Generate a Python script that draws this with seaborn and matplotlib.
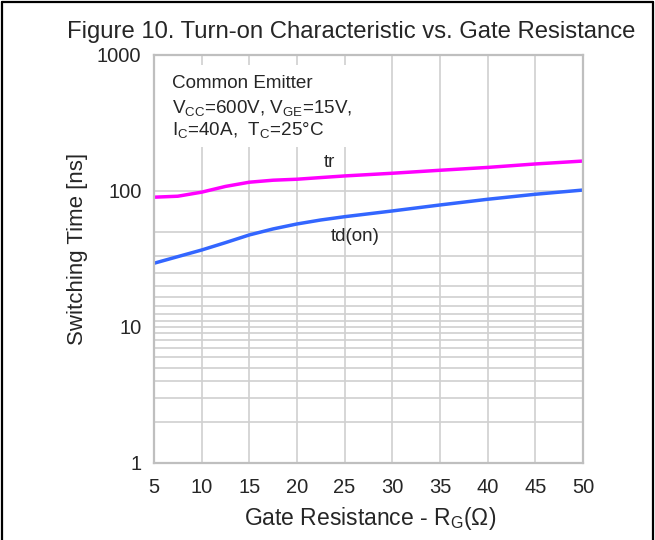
import matplotlib
matplotlib.use("Agg")
import matplotlib.pyplot as plt
import pandas as pd
import seaborn as sns
from matplotlib.lines import Line2D
from matplotlib.patches import Rectangle
from matplotlib.ticker import FixedLocator, NullFormatter

# Data (gate resistance in ohm, times in ns)
rg = [5, 7.5, 10, 12.5, 15, 17.5, 20, 22.5, 25, 30, 35, 40, 45, 50]
tr = [90, 91.5, 98, 108, 116, 120, 122, 125.5, 129, 135, 142, 149, 158, 166]
td_on = [29.4, 32.9, 36.8, 41.7, 47.5, 52.6, 57.2, 61.2, 64.7, 71.3, 78.9, 86.9, 94.6, 101.6]

x_ticks = [5, 10, 15, 20, 25, 30, 35, 40, 45, 50]
y_ticks = [1, 10, 100, 1000]
y_tick_labels = ["1", "10", "100", "1000"]
# horizontal grid lines as drawn in the datasheet chart
minor_grid = [2, 3, 4, 5, 6, 7, 8, 9,
              11.11, 12.5, 14.29, 16.67, 20, 25, 33.33, 50]

df = pd.DataFrame({"Rg": rg, "tr": tr, "td(on)": td_on})

sns.set_style("white")
plt.rcParams["font.family"] = ["Liberation Sans", "DejaVu Sans"]
plt.rcParams["mathtext.fontset"] = "custom"
plt.rcParams["mathtext.rm"] = "Liberation Sans"
plt.rcParams["mathtext.it"] = "Liberation Sans"
plt.rcParams["mathtext.default"] = "rm"

fig = plt.figure(figsize=(6.55, 5.4), dpi=100)
ax = fig.add_axes([0.235, 0.1426, 0.655, 0.7556])

sns.lineplot(data=df, x="Rg", y="tr", ax=ax, color="#FF00FF", linewidth=2.5)
sns.lineplot(data=df, x="Rg", y="td(on)", ax=ax, color="#3366FF", linewidth=2.5)

ax.set_yscale("log")
ax.set_xlim(5, 50)
ax.set_ylim(1, 1000)
ax.set_xticks(x_ticks)
ax.set_xticklabels([str(v) for v in x_ticks])
ax.yaxis.set_major_locator(FixedLocator(y_ticks))
ax.set_yticklabels(y_tick_labels)
ax.yaxis.set_minor_locator(FixedLocator(minor_grid))
ax.yaxis.set_minor_formatter(NullFormatter())
ax.tick_params(axis="both", which="both", length=0, labelsize=14.5, pad=9)
ax.tick_params(axis="x", pad=11)

ax.grid(True, which="major", color="#D0D0D0", linewidth=1.2)
ax.grid(True, which="minor", axis="y", color="#D0D0D0", linewidth=1.2)
ax.set_axisbelow(True)
for s in ax.spines.values():
    s.set_color("#BFBFBF")
    s.set_linewidth(1.6)

ax.set_xlabel("")
ax.set_ylabel("")
fig.text(0.565, 1 - 518 / 540, r"Gate Resistance - R$_{\mathrm{G}}$(Ω)",
         ha="center", va="center", fontsize=16.5)
fig.text(78 / 655, 1 - 249 / 540, "Switching Time [ns]", rotation=90,
         ha="center", va="center", fontsize=16)
fig.text(0.536, 1 - 32 / 540, "Figure 10. Turn-on Characteristic vs. Gate Resistance",
         ha="center", va="center", fontsize=17.2)

# white box behind the test conditions
ax.add_patch(Rectangle((0.003, 0.775), 0.487, 0.2, transform=ax.transAxes,
                       facecolor="white", edgecolor="none", zorder=1.5))
ax.text(0.042, 0.931, "Common Emitter", transform=ax.transAxes,
        ha="left", va="center", fontsize=13.6, zorder=3)
ax.text(0.042, 0.870, r"V$_{\mathrm{CC}}$=600V, V$_{\mathrm{GE}}$=15V,",
        transform=ax.transAxes, ha="left", va="center", fontsize=13.6, zorder=3)
ax.text(0.042, 0.816, r"I$_{\mathrm{C}}$=40A,  T$_{\mathrm{C}}$=25°C",
        transform=ax.transAxes, ha="left", va="center", fontsize=13.6, zorder=3)

ax.text(23.4, 163, "tr", ha="center", va="center", fontsize=13.5)
ax.text(26.1, 45.9, "td(on)", ha="center", va="center", fontsize=13.5)

# black frame on left, top and right of the image
for xs, ys in [([0.0038, 0.0038], [0, 0.9963]),
               ([0.0038, 0.997], [0.9963, 0.9963]),
               ([0.997, 0.997], [0, 0.9963])]:
    fig.add_artist(Line2D(xs, ys, transform=fig.transFigure, color="black", linewidth=1.6))

fig.savefig("out.png", dpi=100)
